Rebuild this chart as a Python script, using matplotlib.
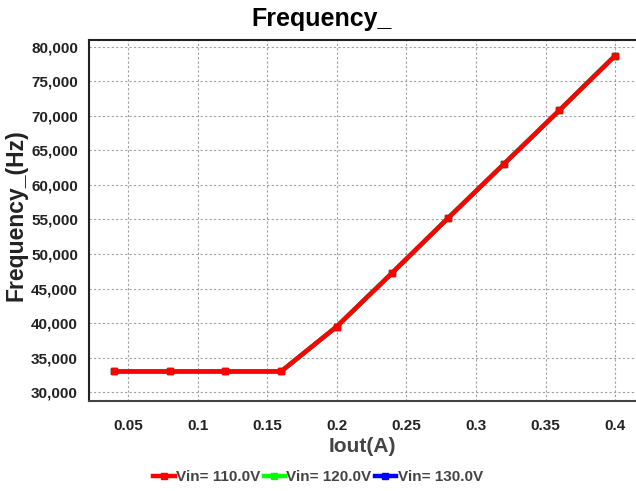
import matplotlib.pyplot as plt
from matplotlib.ticker import FuncFormatter, MultipleLocator

plt.rcParams['font.family'] = ['Liberation Sans', 'DejaVu Sans']

iout = [0.04, 0.08, 0.12, 0.16, 0.20, 0.24, 0.28, 0.32, 0.36, 0.40]
freq_110 = [33000, 33000, 33000, 33000, 39500, 47300, 55200, 63000, 70800, 78700]
freq_120 = [33000, 33000, 33000, 33000, 39500, 47300, 55200, 63000, 70800, 78700]
freq_130 = [33000, 33000, 33000, 33000, 39500, 47300, 55200, 63000, 70800, 78700]

series = [
    ('Vin= 130.0V', freq_130, '#0000ff'),
    ('Vin= 120.0V', freq_120, '#00ff00'),
    ('Vin= 110.0V', freq_110, '#ff0000'),
]

fig = plt.figure(figsize=(6.36, 4.91), dpi=100)
ax = fig.add_axes([0.140, 0.183, 0.860, 0.736])

lines = {}
for name, vals, col in series:
    ln, = ax.plot(iout, vals, color=col, lw=3.2, marker='s', ms=5,
                  solid_joinstyle='miter', label=name)
    lines[name] = ln

ax.set_xlim(0.022, 0.415)
ax.set_ylim(28700, 81000)
ax.xaxis.set_major_locator(MultipleLocator(0.05))
ax.yaxis.set_major_locator(MultipleLocator(5000))
ax.yaxis.set_major_formatter(FuncFormatter(lambda v, p: f'{int(v):,}'))
ax.xaxis.set_major_formatter(FuncFormatter(lambda v, p: f'{v:g}'))

ax.grid(True, color='#a0a0a0', ls=(0, (2, 2)), lw=0.8)
ax.tick_params(length=0, labelsize=11, colors='#222222')
ax.tick_params(axis='x', pad=13)
ax.tick_params(axis='y', pad=8)
for lab in ax.get_xticklabels() + ax.get_yticklabels():
    lab.set_fontweight('bold')

ax.spines['right'].set_visible(False)
for s in ['left', 'top', 'bottom']:
    ax.spines[s].set_linewidth(1.5)
ax.spines['left'].set_color('#222222')
ax.spines['top'].set_color('#222222')
ax.spines['bottom'].set_color('#444444')

fig.text(0.506, 0.962, 'Frequency_', fontsize=18, fontweight='bold', ha='center', va='center')
ax.set_xlabel('Iout(A)', fontsize=15, fontweight='bold', color='#444444', labelpad=3)
ax.set_ylabel('Frequency_(Hz)', fontsize=16.5, fontweight='bold', color='#222222')
ax.yaxis.set_label_coords(-0.112, 0.515)

order = ['Vin= 110.0V', 'Vin= 120.0V', 'Vin= 130.0V']
leg = fig.legend([lines[n] for n in order], order, loc='center', bbox_to_anchor=(0.5, 0.028),
                 ncol=3, frameon=False, handlelength=1.4, handletextpad=0.1, columnspacing=0.2,
                 prop={'weight': 'bold', 'size': 11})
for t in leg.get_texts():
    t.set_color('#444444')

fig.savefig('out.png', dpi=100)
